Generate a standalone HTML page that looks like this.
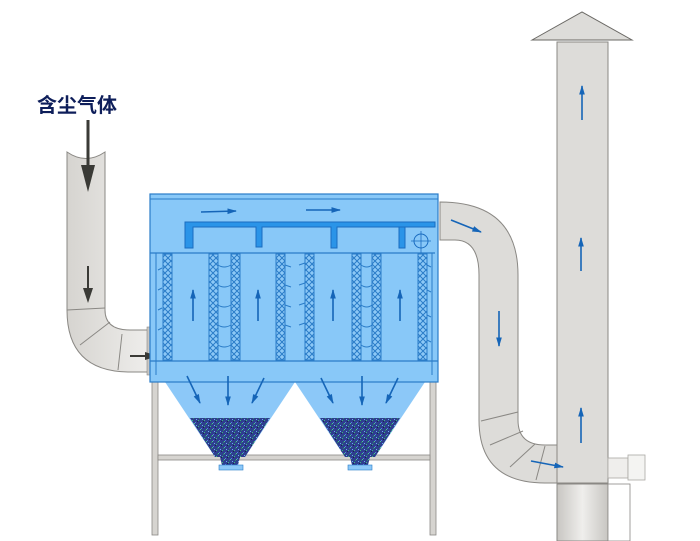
<!DOCTYPE html>
<html><head><meta charset="utf-8"><style>body{margin:0;background:#fff}svg{display:block}</style></head><body>
<svg width="700" height="541" viewBox="0 0 700 541" xmlns="http://www.w3.org/2000/svg">
<defs>
<pattern id="hx" width="6" height="6" patternUnits="userSpaceOnUse"><rect width="6" height="6" fill="#8cc8f6"/><path d="M0,0 L6,6 M6,0 L0,6" stroke="#2a7cc8" stroke-width="1"/></pattern>
<pattern id="dust" width="6" height="6" patternUnits="userSpaceOnUse"><rect width="6" height="6" fill="#2e3f8e"/><rect x="0" y="0" width="1" height="1" fill="#3bc07a"/><rect x="3" y="2" width="1" height="1" fill="#5a7ae8"/><rect x="1" y="4" width="1" height="1" fill="#2a8a6a"/><rect x="4" y="5" width="1" height="1" fill="#6ab0f0"/><rect x="5" y="1" width="1" height="1" fill="#1a2050"/><rect x="2" y="3" width="1" height="1" fill="#48d090"/></pattern>
<linearGradient id="g1" x1="0" x2="1"><stop offset="0" stop-color="#d6d4d0"/><stop offset="1" stop-color="#eeedeb"/></linearGradient>
<linearGradient id="g2" x1="0" x2="1"><stop offset="0" stop-color="#c8c6c2"/><stop offset="0.5" stop-color="#efeeec"/><stop offset="1" stop-color="#c8c6c2"/></linearGradient>
<marker id="ab" viewBox="0 0 10 10" refX="9" refY="5" markerWidth="6" markerHeight="6" orient="auto"><path d="M0,2 L10,5 L0,8 Z" fill="#1565b8"/></marker>
</defs>
<text x="37" y="112" font-family="Liberation Sans, Noto Sans CJK SC, sans-serif" font-size="20" font-weight="bold" fill="#0e1e5a">含尘气体</text>
<path d="M67,152 Q86,165 105,152 L105,310 Q105,330 130,330 L148,330 L148,372 L130,372 Q67,372 67,310 Z" fill="url(#g1)" stroke="#8a8884" stroke-width="1"/>
<path d="M67,310 L105,308 M80,345 L110,322 M118,370 L122,334" stroke="#8a8884" stroke-width="1"/>
<rect x="147" y="327" width="5" height="48" fill="#c8c6c2" stroke="#8a8884" stroke-width="0.6"/>
<path d="M88,120 L88,175" stroke="#3a3a36" stroke-width="3"/><path d="M81,165 L88,192 L95,165 Z" fill="#3a3a36"/>
<path d="M88,266 L88,293" stroke="#3a3a36" stroke-width="2"/><path d="M83,288 L88,303 L93,288 Z" fill="#3a3a36"/>
<path d="M130,356 L150,356" stroke="#3a3a36" stroke-width="2"/><path d="M145,352 L158,356 L145,360 Z" fill="#3a3a36"/>
<rect x="152" y="380" width="6" height="155" fill="#d6d4d0" stroke="#8a8884" stroke-width="0.8"/>
<rect x="430" y="380" width="6" height="155" fill="#d6d4d0" stroke="#8a8884" stroke-width="0.8"/>
<rect x="158" y="455" width="272" height="5" fill="#d6d4d0" stroke="#8a8884" stroke-width="0.8"/>
<path d="M165,382 L295,382 L245,457 L215,457 Z" fill="#8cc8f8"/>
<path d="M295,382 L425,382 L375,457 L345,457 Z" fill="#8cc8f8"/>
<path d="M190,418 L270,418 L245,457 L215,457 Z" fill="url(#dust)"/>
<path d="M320,418 L400,418 L375,457 L345,457 Z" fill="url(#dust)"/>
<path d="M220,457 L240,457 L238,465 L222,465 Z" fill="url(#dust)"/>
<path d="M350,457 L370,457 L368,465 L352,465 Z" fill="url(#dust)"/>
<rect x="219" y="465" width="24" height="5" fill="#8cc8f8" stroke="#2a7cc8" stroke-width="0.6"/>
<rect x="348" y="465" width="24" height="5" fill="#8cc8f8" stroke="#2a7cc8" stroke-width="0.6"/>
<rect x="150" y="194" width="288" height="188" fill="#88c8f8" stroke="#2a7cc8" stroke-width="1.2"/>
<line x1="150" y1="199" x2="438" y2="199" stroke="#2a7cc8" stroke-width="1"/>
<line x1="150" y1="253" x2="435" y2="253" stroke="#2a7cc8" stroke-width="1.2"/>
<line x1="150" y1="361" x2="438" y2="361" stroke="#2a7cc8" stroke-width="1.2"/>
<line x1="156" y1="253" x2="156" y2="375" stroke="#2a7cc8" stroke-width="1"/>
<line x1="432" y1="253" x2="432" y2="375" stroke="#2a7cc8" stroke-width="1"/>
<path d="M185,222 L435,222 L435,227 L337,227 L337,248 L331,248 L331,227 L262,227 L262,247 L256,247 L256,227 L193,227 L193,248 L185,248 Z M399,227 L405,227 L405,248 L399,248 Z" fill="#2a94e8" stroke="#1a6cc0" stroke-width="1"/>
<circle cx="421" cy="241" r="7" fill="none" stroke="#1a6cc0" stroke-width="1"/>
<path d="M411,241 L431,241 M421,231 L421,253" stroke="#1a6cc0" stroke-width="0.8"/>
<g fill="url(#hx)" stroke="#2a7cc8" stroke-width="1">
<rect x="163" y="254" width="9" height="106"/><rect x="209" y="254" width="9" height="106"/>
<rect x="231" y="254" width="9" height="106"/><rect x="276" y="254" width="9" height="106"/>
<rect x="305" y="254" width="9" height="106"/><rect x="352" y="254" width="9" height="106"/>
<rect x="372" y="254" width="9" height="106"/><rect x="418" y="254" width="9" height="106"/>
</g>
<g stroke="#2a7cc8" stroke-width="1" fill="none">
<path d="M158,270 l4,-2 M158,290 l4,-2 M158,310 l4,-2 M158,330 l4,-2 M218,265 q6,4 13,0 M218,285 q6,4 13,0 M218,305 q6,4 13,0 M218,325 q6,4 13,0 M218,345 q6,4 13,0 M285,265 l6,2 M285,285 l6,2 M285,305 l6,2 M285,325 l6,2 M299,265 l6,-2 M299,285 l6,-2 M299,305 l6,-2 M299,325 l6,-2 M361,265 q6,4 11,0 M361,285 q6,4 11,0 M361,305 q6,4 11,0 M361,325 q6,4 11,0 M361,345 q6,4 11,0 M427,265 l4,2 M427,290 l4,2 M427,315 l4,2 M427,340 l4,2"/>
</g>
<g stroke="#1565b8" stroke-width="1.6" marker-end="url(#ab)" fill="none">
<line x1="201" y1="212" x2="236" y2="211"/><line x1="306" y1="210" x2="340" y2="210"/>
<line x1="193" y1="321" x2="193" y2="290"/><line x1="258" y1="321" x2="258" y2="290"/>
<line x1="333" y1="321" x2="333" y2="290"/><line x1="400" y1="321" x2="400" y2="290"/>
<line x1="187" y1="376" x2="200" y2="403"/><line x1="228" y1="376" x2="228" y2="405"/><line x1="264" y1="378" x2="252" y2="403"/>
<line x1="321" y1="378" x2="333" y2="403"/><line x1="362" y1="376" x2="362" y2="405"/><line x1="398" y1="378" x2="386" y2="403"/>
</g>
<path d="M440,202 Q518,202 518,275 L518,420 Q518,445 545,445 L557,445 L557,483 L545,483 Q479,483 479,420 L479,275 Q479,240 455,240 L440,240 Z" fill="#dddcd9" stroke="#8a8884" stroke-width="1"/>
<path d="M481,421 L518,412 M490,445 L523,431 M510,467 L535,444 M536,480 L545,446" stroke="#8a8884" stroke-width="1"/>
<rect x="557" y="42" width="51" height="441" fill="#dddcd9" stroke="#8a8884" stroke-width="1"/>
<path d="M532,40 L582,12 L632,40 Z" fill="#dddcd9" stroke="#6a6864" stroke-width="1"/>
<rect x="557" y="484" width="51" height="57" fill="url(#g2)" stroke="#8a8884" stroke-width="1"/>
<rect x="608" y="484" width="22" height="57" fill="#fff" stroke="#8a8884" stroke-width="0.8"/>
<rect x="608" y="458" width="20" height="20" fill="#efeeec" stroke="#aaa8a4" stroke-width="0.8"/>
<rect x="628" y="455" width="17" height="25" fill="#f4f4f2" stroke="#aaa8a4" stroke-width="0.8"/>
<g stroke="#1565b8" stroke-width="1.6" marker-end="url(#ab)" fill="none">
<line x1="451" y1="220" x2="481" y2="232"/>
<line x1="499" y1="311" x2="499" y2="346"/>
<line x1="582" y1="120" x2="582" y2="86"/>
<line x1="581" y1="271" x2="581" y2="238"/>
<line x1="581" y1="443" x2="581" y2="408"/>
<line x1="531" y1="461" x2="563" y2="467"/>
</g>
</svg>
</body></html>
